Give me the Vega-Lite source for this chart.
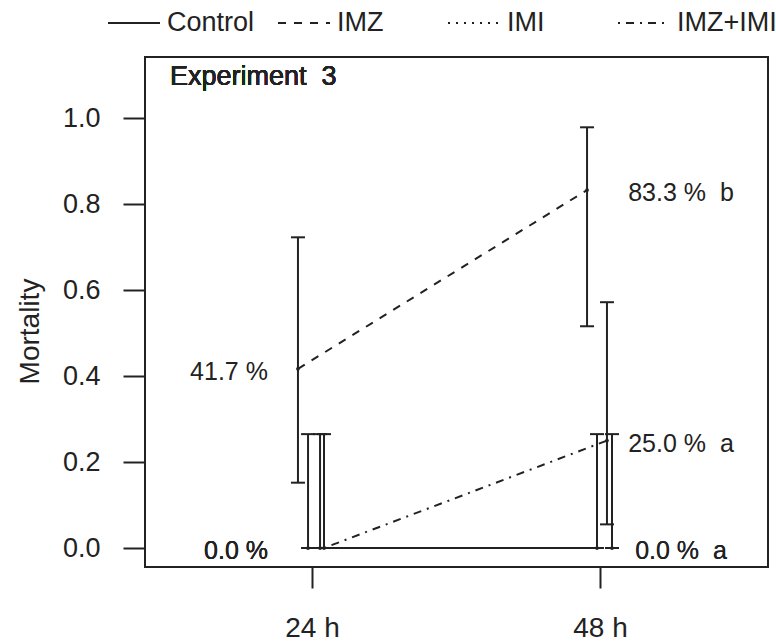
{
  "$schema": "https://vega.github.io/schema/vega-lite/v6.json",
  "width": 623,
  "height": 510,
  "autosize": "none",
  "padding": {"left": 145, "top": 57, "right": 8, "bottom": 76},
  "background": "white",
  "config": {
    "font": "Liberation Sans",
    "view": {"stroke": "#222", "strokeWidth": 2},
    "axis": {"grid": false, "domain": false, "tickColor": "#222", "tickWidth": 2, "labelColor": "#222", "labelFont": "Liberation Sans", "titleFont": "Liberation Sans", "titleColor": "#222", "titleFontWeight": "normal"},
    "legend": {"orient": "none", "legendX": -38, "legendY": -61, "direction": "horizontal", "columns": 4, "gridAlign": "all", "symbolSize": 2704, "symbolStrokeWidth": 2, "symbolStrokeColor": "#222", "symbolType": "stroke", "labelFontSize": 27, "labelFont": "Liberation Sans", "labelColor": "#222", "labelOffset": 6, "columnPadding": 7, "padding": 0}
  },
  "data": {"values": [
    {"group": "Control", "time": "24 h", "pos": 23.67, "mean": 0, "lo": 0, "hi": 0.265, "label": "0.0 %"},
    {"group": "IMZ", "time": "24 h", "pos": 22.83, "mean": 0.417, "lo": 0.152, "hi": 0.723, "label": "41.7 %"},
    {"group": "IMI", "time": "24 h", "pos": 24.67, "mean": 0, "lo": 0, "hi": 0.265, "label": "0.0 %"},
    {"group": "IMZ+IMI", "time": "24 h", "pos": 25.0, "mean": 0, "lo": 0, "hi": 0.265, "label": "0.0 %"},
    {"group": "Control", "time": "48 h", "pos": 47.75, "mean": 0, "lo": 0, "hi": 0.265, "label": "0.0 %\u00a0\u00a0a"},
    {"group": "IMZ", "time": "48 h", "pos": 46.92, "mean": 0.833, "lo": 0.516, "hi": 0.979, "label": "83.3 %\u00a0\u00a0b"},
    {"group": "IMI", "time": "48 h", "pos": 49.0, "mean": 0, "lo": 0, "hi": 0.265, "label": "0.0 %\u00a0\u00a0a"},
    {"group": "IMZ+IMI", "time": "48 h", "pos": 48.58, "mean": 0.25, "lo": 0.055, "hi": 0.572, "label": "25.0 %\u00a0\u00a0a"}
  ]},
  "layer": [
    {
      "mark": {"type": "line", "color": "#222", "strokeWidth": 2},
      "encoding": {
        "x": {"field": "pos", "type": "quantitative", "scale": {"domain": [10.083, 62], "nice": false, "zero": false},
          "axis": {"values": [24, 48], "labelExpr": "datum.value + ' h'", "tickSize": 21, "labelPadding": 26, "labelFontSize": 28, "title": null}},
        "y": {"field": "mean", "type": "quantitative", "scale": {"domain": [-0.0442, 1.1426], "nice": false, "zero": false},
          "axis": {"values": [0, 0.2, 0.4, 0.6, 0.8, 1], "format": ".1f", "tickSize": 22, "labelPadding": 23, "labelFontSize": 27, "title": "Mortality", "titleFontSize": 28, "titleX": -115, "titleY": 274, "titleAngle": 270, "titleAlign": "center", "titleBaseline": "middle"}},
        "strokeDash": {"field": "group", "type": "nominal", "scale": {"domain": ["Control", "IMZ", "IMI", "IMZ+IMI"], "range": [[1, 0], [8, 8], [2, 6], [2, 6, 8, 6]]}, "legend": {"title": null}}
      }
    },
    {
      "mark": {"type": "rule", "color": "#222", "strokeWidth": 2},
      "encoding": {
        "x": {"field": "pos", "type": "quantitative"},
        "y": {"field": "lo", "type": "quantitative"},
        "y2": {"field": "hi"}
      }
    },
    {
      "mark": {"type": "tick", "orient": "horizontal", "color": "#222", "size": 14, "thickness": 2, "opacity": 1},
      "encoding": {
        "x": {"field": "pos", "type": "quantitative"},
        "y": {"field": "lo", "type": "quantitative"}
      }
    },
    {
      "mark": {"type": "tick", "orient": "horizontal", "color": "#222", "size": 14, "thickness": 2, "opacity": 1},
      "encoding": {
        "x": {"field": "pos", "type": "quantitative"},
        "y": {"field": "hi", "type": "quantitative"}
      }
    },
    {
      "mark": {"type": "point", "filled": true, "color": "#222", "size": 14, "opacity": 1},
      "encoding": {
        "x": {"field": "pos", "type": "quantitative"},
        "y": {"field": "mean", "type": "quantitative"}
      }
    },
    {
      "transform": [{"filter": "datum.time == '24 h'"}],
      "mark": {"type": "text", "align": "right", "baseline": "middle", "fontSize": 25, "color": "#222", "dy": 3},
      "encoding": {
        "x": {"datum": 20.33, "type": "quantitative"},
        "y": {"field": "mean", "type": "quantitative"},
        "text": {"field": "label"}
      }
    },
    {
      "transform": [{"filter": "datum.time == '48 h'"}],
      "mark": {"type": "text", "align": "center", "baseline": "middle", "fontSize": 25, "color": "#222", "dy": 3},
      "encoding": {
        "x": {"datum": 54.75, "type": "quantitative"},
        "y": {"field": "mean", "type": "quantitative"},
        "text": {"field": "label"}
      }
    },
    {
      "mark": {"type": "text", "align": "left", "baseline": "alphabetic", "fontSize": 27, "color": "#222"},
      "encoding": {
        "x": {"datum": 12.17, "type": "quantitative"},
        "y": {"datum": 1.0774, "type": "quantitative"},
        "text": {"value": "Experiment\u00a0\u00a03"}
      }
    }
  ]
}
